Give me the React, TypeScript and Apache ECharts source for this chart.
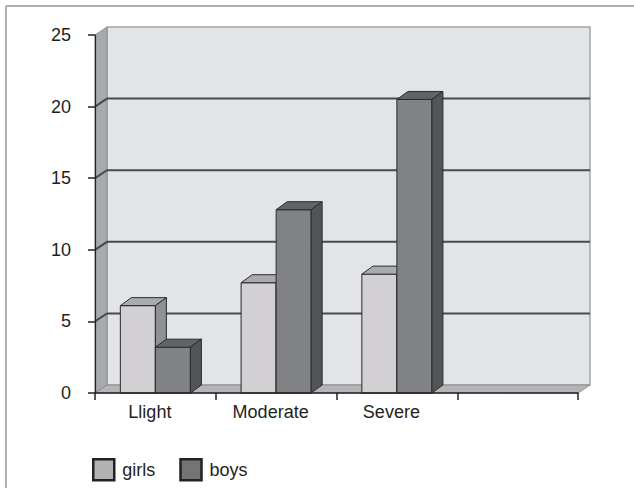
import React, { useEffect, useRef } from "react";
import * as echarts from "echarts";

const categories = ["Llight", "Moderate", "Severe", ""];
const girls = [6.1, 7.7, 8.3];
const boys = [3.2, 12.8, 20.5];
const yTickValues = [0, 5, 10, 15, 20, 25];
const Y_MAX = 25;

const WALL_DX = 12;
const WALL_DY = -8;
const BAR_DX = 11;
const BAR_DY = -8;
const BAR_FRAC = 0.29;

const girlsColors = { front: "#d2d0d3", top: "#a9abae", side: "#8f9194", legend: "#b2b2b2" };
const boysColors = { front: "#808285", top: "#616366", side: "#525457", legend: "#747474" };

function makeBarRender(slot: number, colors: any) {
  return (params: any, api: any) => {
    const cat = api.value(0);
    const val = api.value(1);
    const base = api.coord([cat, 0]);
    const top = api.coord([cat, val]);
    const w = api.size([1, 0])[0];
    const bw = w * BAR_FRAC;
    const x1 = base[0] + (slot - 1) * bw;
    const x2 = x1 + bw;
    const y0 = base[1];
    const y1 = top[1];
    const stroke = "#2b2b2b";
    return {
      type: "group",
      children: [
        {
          type: "polygon",
          shape: { points: [[x1, y0], [x1, y1], [x2, y1], [x2, y0]] },
          style: { fill: colors.front, stroke, lineWidth: 1 },
        },
        {
          type: "polygon",
          shape: { points: [[x1, y1], [x1 + BAR_DX, y1 + BAR_DY], [x2 + BAR_DX, y1 + BAR_DY], [x2, y1]] },
          style: { fill: colors.top, stroke, lineWidth: 1 },
        },
        {
          type: "polygon",
          shape: { points: [[x2, y1], [x2 + BAR_DX, y1 + BAR_DY], [x2 + BAR_DX, y0 + BAR_DY], [x2, y0]] },
          style: { fill: colors.side, stroke, lineWidth: 1 },
        },
      ],
    };
  };
}

const wallRender = (params: any, api: any) => {
  const c0 = api.coord([0, 0]);
  const w = api.size([1, 0])[0];
  const xL = c0[0] - w / 2;
  const xR = xL + w * categories.length;
  const yB = c0[1];
  const yT = api.coord([0, Y_MAX])[1];
  const children: any[] = [];
  children.push({
    type: "polygon",
    shape: { points: [[xL + WALL_DX, yT + WALL_DY], [xR + WALL_DX, yT + WALL_DY], [xR + WALL_DX, yB + WALL_DY], [xL + WALL_DX, yB + WALL_DY]] },
    style: { fill: "#e2e4e7", stroke: "#a3a5a8", lineWidth: 1.5 },
  });
  children.push({
    type: "polygon",
    shape: { points: [[xL, yB], [xL, yT], [xL + WALL_DX, yT + WALL_DY], [xL + WALL_DX, yB + WALL_DY]] },
    style: { fill: "#a8aaad", stroke: "#8c8e91", lineWidth: 1 },
  });
  children.push({
    type: "polygon",
    shape: { points: [[xL, yB], [xL + WALL_DX, yB + WALL_DY], [xR + WALL_DX, yB + WALL_DY], [xR, yB]] },
    style: { fill: "#b3b5b8", stroke: "#8c8e91", lineWidth: 1 },
  });
  for (const v of yTickValues) {
    if (v === 0 || v === Y_MAX) continue;
    const y = api.coord([0, v])[1];
    children.push({
      type: "polyline",
      shape: { points: [[xL, y], [xL + WALL_DX, y + WALL_DY], [xR + WALL_DX, y + WALL_DY]] },
      style: { stroke: "#4a4a4a", lineWidth: 2, fill: null },
    });
  }
  return { type: "group", children };
};

export default function App() {
  const ref = useRef<HTMLDivElement>(null);
  useEffect(() => {
    if (!ref.current) return;
    const chart = echarts.init(ref.current, null, { renderer: "svg" });
    const font = "'Liberation Sans', Arial, sans-serif";
    chart.setOption({
      animation: false,
      backgroundColor: "#ffffff",
      textStyle: { fontFamily: font },
      grid: { left: 95, right: 56, top: 35, bottom: 95, outerBoundsMode: "none" },
      xAxis: {
        type: "category",
        data: categories,
        boundaryGap: true,
        z: 10,
        axisLine: { show: true, lineStyle: { color: "#222", width: 1.5 } },
        axisTick: { show: true, length: 7, lineStyle: { color: "#222", width: 1.5 } },
        axisLabel: { color: "#231f20", fontSize: 18, fontFamily: font, margin: 10, padding: [0, 11, 0, 0] },
        splitLine: { show: false },
      },
      yAxis: {
        type: "value",
        min: 0,
        max: Y_MAX,
        interval: 5,
        z: 10,
        axisLine: { show: true, lineStyle: { color: "#222", width: 1.2 } },
        axisTick: { show: true, length: 7, lineStyle: { color: "#222", width: 1.5 } },
        axisLabel: { color: "#231f20", fontSize: 18, fontFamily: font, margin: 24 },
        splitLine: { show: false },
      },
      legend: {
        left: 92,
        top: 458,
        padding: 0,
        itemGap: 24,
        itemWidth: 21,
        itemHeight: 21,
        icon: "rect",
        textStyle: { fontSize: 18, color: "#231f20", fontFamily: font, padding: [0, 0, 0, 3] },
        data: [
          { name: "girls", itemStyle: { color: girlsColors.legend, borderColor: "#222", borderWidth: 2.5 } },
          { name: "boys", itemStyle: { color: boysColors.legend, borderColor: "#222", borderWidth: 2.5 } },
        ],
      },
      graphic: [
        { type: "line", shape: { x1: 6, y1: 6, x2: 634, y2: 6 }, style: { stroke: "#b0b0b0", lineWidth: 2 } },
        { type: "line", shape: { x1: 6, y1: 6, x2: 6, y2: 488 }, style: { stroke: "#b0b0b0", lineWidth: 2 } },
      ],
      series: [
        {
          name: "walls",
          type: "custom",
          coordinateSystem: "cartesian2d",
          renderItem: wallRender,
          data: [[0, 0]],
          z: 1,
          silent: true,
          clip: false,
        },
        {
          name: "girls",
          type: "custom",
          coordinateSystem: "cartesian2d",
          renderItem: makeBarRender(0, girlsColors),
          data: girls.map((v, i) => [i, v]),
          encode: { x: 0, y: 1 },
          itemStyle: { color: girlsColors.legend },
          z: 2,
          clip: false,
        },
        {
          name: "boys",
          type: "custom",
          coordinateSystem: "cartesian2d",
          renderItem: makeBarRender(1, boysColors),
          data: boys.map((v, i) => [i, v]),
          encode: { x: 0, y: 1 },
          itemStyle: { color: boysColors.legend },
          z: 3,
          clip: false,
        },
      ],
    });
    return () => chart.dispose();
  }, []);
  return <div ref={ref} style={{ position: "absolute", left: 0, top: 0, width: 634, height: 488 }} />;
}
